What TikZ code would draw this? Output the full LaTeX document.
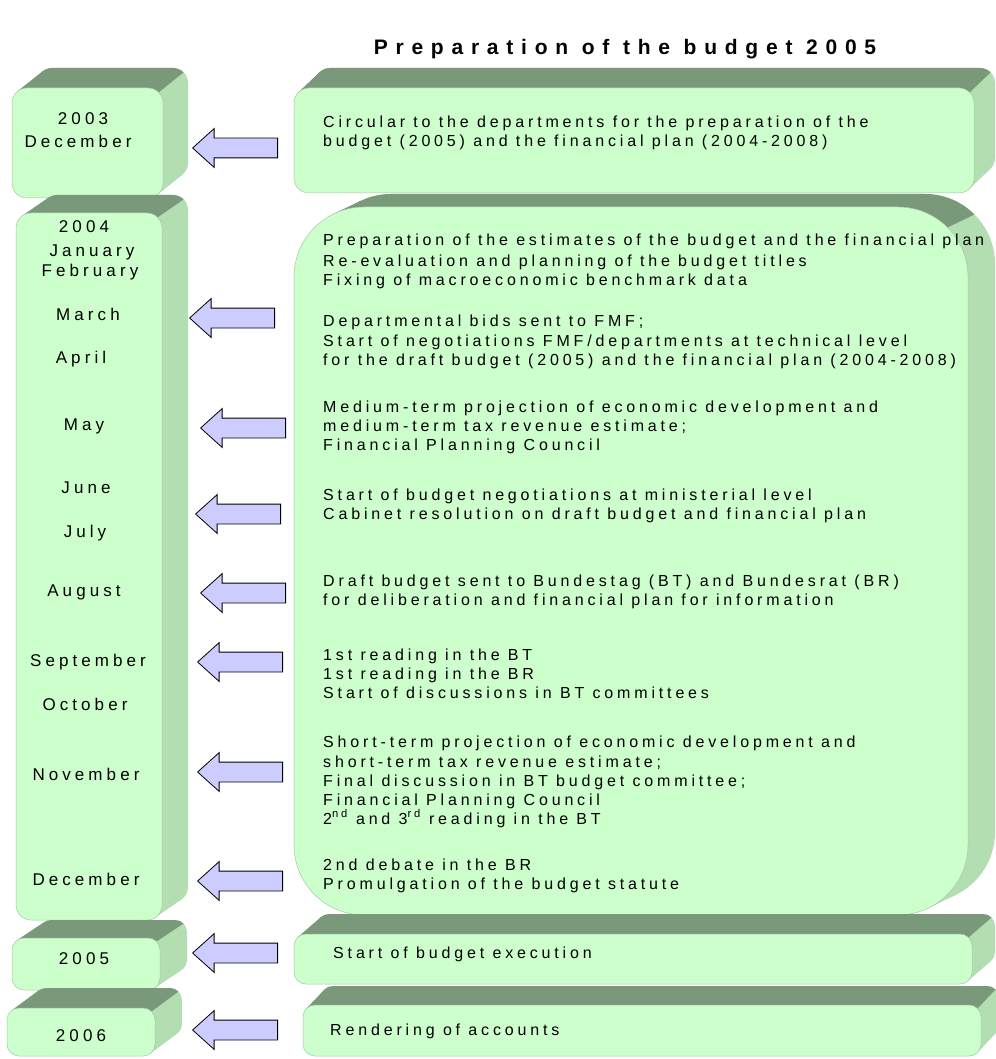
\documentclass[tikz,border=0pt]{standalone}
\usepackage{fontspec}
\setmainfont{Liberation Sans}[LetterSpace=24,Ligatures=NoCommon]
\newfontfamily\lblfont{Liberation Sans}[LetterSpace=24,Ligatures=NoCommon]
\newfontfamily\titlefont{Liberation Sans}[LetterSpace=37,Ligatures=NoCommon]
\usetikzlibrary{shapes.arrows}
\definecolor{frontc}{RGB}{204,255,204}
\definecolor{topc}{RGB}{122,153,122}
\definecolor{sidec}{RGB}{178,222,178}
\definecolor{edgec}{RGB}{165,200,165}
\definecolor{arrowc}{RGB}{204,204,255}
% x1 y1 x2 y2 r d e  (y downwards)
\newcommand\slabbox[7]{%
  \pgfmathsetmacro\bL{sqrt((#6)*(#6)+(#7)*(#7))}%
  \pgfmathsetmacro\tlx{#1+#5-#5*#7/\bL}%
  \pgfmathsetmacro\tly{#2+#5-#5*#6/\bL}%
  \pgfmathsetmacro\brx{#3-#5+#5*#7/\bL}%
  \pgfmathsetmacro\bry{#4-#5+#5*#6/\bL}%
  \pgfmathsetmacro\smx{#3-0.2929*#5}%
  \pgfmathsetmacro\smy{#2+0.2929*#5}%
  \fill[sidec,rounded corners=#5pt] ({#1+#6},{#2-#7}) rectangle ({#3+#6},{#4-#7});
  \fill[sidec] (\tlx,\tly) -- ({\tlx+#6},{\tly-#7}) -- ({\brx+#6},{\bry-#7}) -- (\brx,\bry) -- cycle;
  \begin{scope}
    \clip ({#1-10},{#2+#5}) -- ({#1-10},{#2-250}) -- ({\smx+8*#6},{\smy-8*#7}) -- (\smx,\smy) -- ({#1+#5},{#2+#5}) -- cycle;
    \fill[topc,rounded corners=#5pt] ({#1+#6},{#2-#7}) rectangle ({#3+#6},{#4-#7});
    \fill[topc] (\tlx,\tly) -- ({\tlx+#6},{\tly-#7}) -- ({\brx+#6},{\bry-#7}) -- (\brx,\bry) -- cycle;
  \end{scope}
  \fill[frontc,draw=edgec,line width=0.5pt,rounded corners=#5pt] (#1,#2) rectangle (#3,#4);
}
\tikzset{
  txt/.style={anchor=base west,inner sep=0pt,font=\fontsize{16}{18}\selectfont},
  lbl/.style={anchor=base,inner sep=0pt,font=\lblfont\fontsize{17}{19}\selectfont},
  blockarrow/.style={single arrow,shape border rotate=180,draw=black,fill=arrowc,
    line width=0.8pt,minimum height=85pt,minimum width=38pt,inner xsep=0pt,inner ysep=9.5pt,
    single arrow head extend=9.5pt,single arrow tip angle=84,anchor=tip},
}
\begin{document}
\begin{tikzpicture}[x=1pt,y=-1pt]
\useasboundingbox (0,0) rectangle (995,1059);
\fill[white] (0,0) rectangle (995,1059);
% title
\node[anchor=base,inner sep=0pt,font=\titlefont\bfseries\fontsize{21}{23}\selectfont] (title) at (625,55) {Preparation of the budget 2005};
% boxes
\slabbox{12}{88}{163}{198}{15}{25}{20}
\slabbox{294}{88}{974}{193}{15}{21}{20}
\slabbox{16}{213}{162}{920}{15}{26}{18}
\slabbox{294}{207}{968}{915}{70}{27}{13}
\slabbox{12}{938}{160}{990}{12}{27}{18}
\slabbox{294}{934}{972}{984}{12}{23}{20}
\slabbox{7}{1008}{155}{1056}{12}{27}{20}
\slabbox{303}{1005}{981}{1056}{12}{18}{19}
% left labels
\node[lbl] (l1) at (83,125) {2003};
\node[lbl] (l2) at (78,148) {December};
\node[lbl] (l3) at (84,233) {2004};
\node[lbl] (l4) at (92,256) {January};
\node[lbl] (l5) at (90,276) {February};
\node[lbl] (l6) at (88,320) {March};
\node[lbl] (l7) at (81,363) {April};
\node[lbl] (l8) at (84,430) {May};
\node[lbl] (l9) at (86,493) {June};
\node[lbl] (l10) at (85,537) {July};
\node[lbl] (l11) at (84,596) {August};
\node[lbl] (l12) at (88,666) {September};
\node[lbl] (l13) at (85,710) {October};
\node[lbl] (l14) at (86,780) {November};
\node[lbl] (l15) at (86,885) {December};
\node[lbl] (l16) at (84,964) {2005};
\node[lbl] (l17) at (81,1041) {2006};
% right texts
\node[txt] (r1) at (323,128) {Circular to the departments for the preparation of the};
\node[txt] (r2) at (323,147) {budget (2005) and the financial plan (2004-2008)};
\node[txt] (r3) at (323,246) {Preparation of the estimates of the budget and the financial plan};
\node[txt] (r4) at (323,266) {Re-evaluation and planning of the budget titles};
\node[txt] (r5) at (323,285) {Fixing of macroeconomic benchmark data};
\node[txt] (r6) at (323,326) {Departmental bids sent to FMF;};
\node[txt] (r7) at (323,346) {Start of negotiations FMF/departments at technical level};
\node[txt] (r8) at (323,365) {for the draft budget (2005) and the financial plan (2004-2008)};
\node[txt] (r9) at (323,412) {Medium-term projection of economic development and};
\node[txt] (r10) at (323,431) {medium-term tax revenue estimate;};
\node[txt] (r11) at (323,450) {Financial Planning Council};
\node[txt] (r12) at (323,500) {Start of budget negotiations at ministerial level};
\node[txt] (r13) at (323,519) {Cabinet resolution on draft budget and financial plan};
\node[txt] (r14) at (323,586) {Draft budget sent to Bundestag (BT) and Bundesrat (BR)};
\node[txt] (r15) at (323,605) {for deliberation and financial plan for information};
\node[txt] (r16) at (323,660) {1st reading in the BT};
\node[txt] (r17) at (323,679) {1st reading in the BR};
\node[txt] (r18) at (323,698) {Start of discussions in BT committees};
\node[txt] (r19) at (323,747) {Short-term projection of economic development and};
\node[txt] (r20) at (323,767) {short-term tax revenue estimate;};
\node[txt] (r21) at (323,786) {Final discussion in BT budget committee;};
\node[txt] (r22) at (323,805) {Financial Planning Council};
\node[txt] (r23) at (323,824) {2\textsuperscript{nd} and 3\textsuperscript{rd} reading in the BT};
\node[txt] (r24) at (323,870) {2nd debate in the BR};
\node[txt] (r25) at (323,889) {Promulgation of the budget statute};
\node[txt] (r26) at (333,958) {Start of budget execution};
\node[txt] (r27) at (330,1035) {Rendering of accounts};
% arrows
\node[blockarrow] (a1) at (192,148) {};
\node[blockarrow] (a2) at (189,318) {};
\node[blockarrow] (a3) at (200,428) {};
\node[blockarrow] (a4) at (195,514) {};
\node[blockarrow] (a5) at (200,593) {};
\node[blockarrow] (a6) at (197,662) {};
\node[blockarrow] (a7) at (197,772) {};
\node[blockarrow] (a8) at (197,881) {};
\node[blockarrow] (a9) at (192,953) {};
\node[blockarrow] (a10) at (192,1030) {};
\end{tikzpicture}
\end{document}
